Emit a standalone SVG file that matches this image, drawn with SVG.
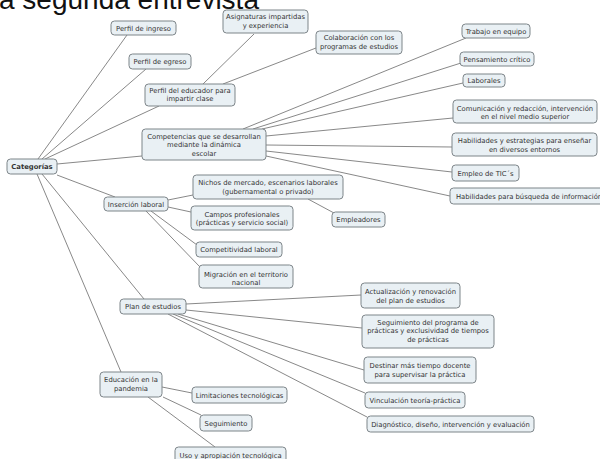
<svg xmlns="http://www.w3.org/2000/svg" width="600" height="459" viewBox="0 0 600 459">
<style>
.n rect{fill:#e9f0f4;stroke:#7d8589;stroke-width:1}
.n text{font-family:"DejaVu Sans",Verdana,sans-serif;font-size:6.8px;fill:#333;text-anchor:middle}
.c line{stroke:#6a6a6a;stroke-width:0.8}
.t{font-family:"Liberation Sans",Arial,sans-serif;font-size:28px;fill:#111}
</style>
<rect width="600" height="459" fill="#fff"/>
<text class="t" x="-1" y="9">a segunda entrevista</text>
<g class="c" id="connectors">
<line x1="38" y1="159" x2="127" y2="35"/>
<line x1="42" y1="159" x2="146" y2="69"/>
<line x1="45" y1="159" x2="159" y2="106"/>
<line x1="57" y1="164" x2="142" y2="156"/>
<line x1="57" y1="175" x2="115" y2="197"/>
<line x1="42" y1="174" x2="144" y2="299"/>
<line x1="37" y1="174" x2="121" y2="372"/>
<line x1="203" y1="84" x2="254" y2="34"/>
<line x1="223" y1="84" x2="316" y2="48"/>
<line x1="243" y1="129" x2="466" y2="38"/>
<line x1="253" y1="129" x2="461" y2="63"/>
<line x1="262" y1="129" x2="463" y2="83"/>
<line x1="266" y1="136" x2="453" y2="118"/>
<line x1="266" y1="145" x2="452" y2="147"/>
<line x1="266" y1="151" x2="452" y2="172"/>
<line x1="266" y1="156" x2="450" y2="196"/>
<line x1="168" y1="200" x2="193" y2="195"/>
<line x1="168" y1="207" x2="191" y2="212"/>
<line x1="151" y1="211" x2="197" y2="245"/>
<line x1="146" y1="211" x2="200" y2="267"/>
<line x1="308" y1="199" x2="334" y2="213"/>
<line x1="186" y1="304" x2="361" y2="295"/>
<line x1="186" y1="310" x2="362" y2="328"/>
<line x1="178" y1="314" x2="364" y2="370"/>
<line x1="173" y1="314" x2="365" y2="393"/>
<line x1="168" y1="314" x2="367" y2="417"/>
<line x1="162" y1="387" x2="192" y2="393"/>
<line x1="163" y1="397" x2="201" y2="415"/>
<line x1="148" y1="397" x2="215" y2="447"/>
</g>
<g class="n" id="n-perfil-ingreso"><rect x="111" y="21" width="65" height="14" rx="3.5"/><text x="143.5" y="30.5">Perfil de ingreso</text></g>
<g class="n" id="n-perfil-egreso"><rect x="129" y="54" width="62" height="15" rx="3.5"/><text x="160" y="64">Perfil de egreso</text></g>
<g class="n" id="n-asignaturas"><rect x="223" y="10" width="85" height="23" rx="3.5"/><text x="265.5" y="19">Asignaturas impartidas</text><text x="265.5" y="27.5">y experiencia</text></g>
<g class="n" id="n-perfil-educador"><rect x="145" y="84" width="90" height="22" rx="3.5"/><text x="190" y="92.5">Perfil del educador para</text><text x="190" y="101">impartir clase</text></g>
<g class="n" id="n-colaboracion"><rect x="316" y="31" width="86" height="23" rx="3.5"/><text x="359" y="40">Colaboración con los</text><text x="359" y="48.5">programas de estudios</text></g>
<g class="n" id="n-trabajo"><rect x="462" y="24" width="68" height="14" rx="3.5"/><text x="496" y="33.5">Trabajo en equipo</text></g>
<g class="n" id="n-pensamiento"><rect x="460" y="52" width="74" height="14" rx="3.5"/><text x="497" y="61.5">Pensamiento crítico</text></g>
<g class="n" id="n-laborales"><rect x="463" y="74" width="42" height="13" rx="3.5"/><text x="484" y="83">Laborales</text></g>
<g class="n" id="n-comunicacion"><rect x="453" y="100" width="144" height="23" rx="3.5"/><text x="525" y="110.5">Comunicación y redacción, intervención</text><text x="525" y="119">en el nivel medio superior</text></g>
<g class="n" id="n-competencias"><rect x="142" y="129" width="124" height="31" rx="3.5"/><text x="204" y="139">Competencias que se desarrollan</text><text x="204" y="147.3">mediante la dinámica</text><text x="204" y="155.6">escolar</text></g>
<g class="n" id="n-habilidades-estrategias"><rect x="452" y="133" width="145" height="23" rx="3.5"/><text x="524.5" y="143">Habilidades y estrategias para enseñar</text><text x="524.5" y="151.5">en diversos entornos</text></g>
<g class="n" id="n-tic"><rect x="452" y="165" width="67" height="16" rx="3.5"/><text x="485.5" y="175.5">Empleo de TIC´s</text></g>
<g class="n" id="n-busqueda"><rect x="450" y="188" width="156" height="16" rx="3.5"/><text x="456" y="198.5" style="text-anchor:start">Habilidades para búsqueda de información</text></g>
<g class="n" id="n-categorias"><rect x="7" y="159" width="50" height="15" rx="3.5"/><text x="32" y="169" style="font-weight:bold">Categorías</text></g>
<g class="n" id="n-nichos"><rect x="193" y="175" width="150" height="24" rx="3.5"/><text x="268" y="185">Nichos de mercado, escenarios laborales</text><text x="268" y="193.5">(gubernamental o privado)</text></g>
<g class="n" id="n-empleadores"><rect x="332" y="212" width="53" height="15" rx="3.5"/><text x="358.5" y="222">Empleadores</text></g>
<g class="n" id="n-insercion"><rect x="104" y="197" width="64" height="14" rx="3.5"/><text x="136" y="206.5">Inserción laboral</text></g>
<g class="n" id="n-campos"><rect x="191" y="206" width="102" height="24" rx="3.5"/><text x="242" y="216.5">Campos profesionales</text><text x="242" y="224.5">(prácticas y servicio social)</text></g>
<g class="n" id="n-competitividad"><rect x="196" y="242" width="86" height="15" rx="3.5"/><text x="239" y="252">Competitividad laboral</text></g>
<g class="n" id="n-migracion"><rect x="199" y="265" width="94" height="23" rx="3.5"/><text x="246" y="276.5">Migración en el territorio</text><text x="246" y="284.5">nacional</text></g>
<g class="n" id="n-plan"><rect x="120" y="299" width="66" height="15" rx="3.5"/><text x="153" y="309">Plan de estudios</text></g>
<g class="n" id="n-actualizacion"><rect x="361" y="283" width="99" height="25" rx="3.5"/><text x="410.5" y="294">Actualización y renovación</text><text x="410.5" y="302.5">del plan de estudios</text></g>
<g class="n" id="n-seguimiento-programa"><rect x="362" y="315" width="132" height="33" rx="3.5"/><text x="428" y="325">Seguimiento del programa de</text><text x="428" y="333.3">prácticas y exclusividad de tiempos</text><text x="428" y="341.6">de prácticas</text></g>
<g class="n" id="n-destinar"><rect x="364" y="357" width="112" height="26" rx="3.5"/><text x="420" y="368.3">Destinar más tiempo docente</text><text x="420" y="377">para supervisar la práctica</text></g>
<g class="n" id="n-vinculacion"><rect x="365" y="392" width="100" height="16" rx="3.5"/><text x="415" y="402.5">Vinculación teoría-práctica</text></g>
<g class="n" id="n-diagnostico"><rect x="367" y="416" width="167" height="16" rx="3.5"/><text x="450.5" y="426.5">Diagnóstico, diseño, intervención y evaluación</text></g>
<g class="n" id="n-educacion"><rect x="100" y="372" width="62" height="25" rx="3.5"/><text x="131" y="382.3">Educación en la</text><text x="131" y="391">pandemia</text></g>
<g class="n" id="n-limitaciones"><rect x="192" y="387" width="95" height="16" rx="3.5"/><text x="239.5" y="397.5">Limitaciones tecnológicas</text></g>
<g class="n" id="n-seguimiento"><rect x="200" y="415" width="52" height="16" rx="3.5"/><text x="226" y="425.5">Seguimiento</text></g>
<g class="n" id="n-uso"><rect x="175" y="447" width="111" height="16" rx="3.5"/><text x="230.5" y="457.5">Uso y apropiación tecnológica</text></g>
</svg>
